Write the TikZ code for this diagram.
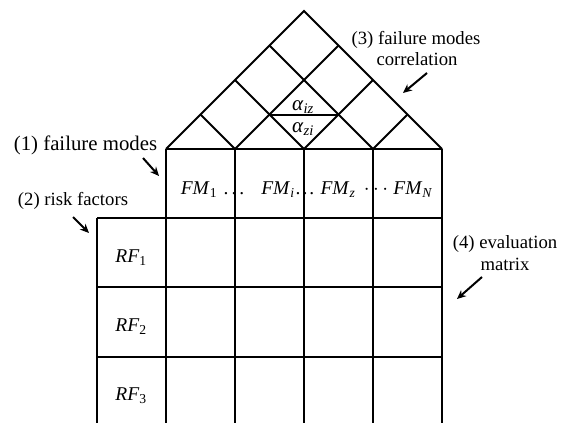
\documentclass[tikz,border=0pt]{standalone}
\usepackage{fontspec}
\setmainfont{Liberation Serif}
\usetikzlibrary{arrows.meta}
\newcommand{\lbsub}[2]{\textit{#1}\textsubscript{#2}}
\begin{document}
\begin{tikzpicture}[x=1pt,y=-1pt,
  gridline/.style={line width=2pt},
  txt/.style={font=\fontsize{18.7}{22}\selectfont, inner sep=0pt, anchor=base},
  cell/.style={font=\fontsize{19.5}{22}\selectfont, inner sep=0pt, anchor=base},
  pointer/.style={line width=2pt, -{Stealth[length=9pt,width=8pt]}}]
\useasboundingbox (0,0) rectangle (574,423);
% failure modes row
\draw[gridline] (166,149) -- (442,149);
\foreach \x in {166,235,304,373,442} \draw[gridline] (\x,149) -- (\x,218);
% evaluation matrix body
\foreach \x in {97,166,235,304,373,442} \draw[gridline] (\x,218) -- (\x,423);
\foreach \y in {218,287,357} \draw[gridline] (97,\y) -- (442,\y);
% roof (correlation)
\draw[gridline] (166,149) -- (304,11) -- (442,149);
\draw[gridline] (235,149) -- (338.5,45.5);
\draw[gridline] (304,149) -- (373,80);
\draw[gridline] (373,149) -- (407.5,114.5);
\draw[gridline] (373,149) -- (269.5,45.5);
\draw[gridline] (304,149) -- (235,80);
\draw[gridline] (235,149) -- (200.5,114.5);
\draw[gridline] (269.5,114.5) -- (338.5,114.5);
% roof labels
\node[cell, font=\fontsize{21}{22}\selectfont] (aiz) at (303,110) {\lbsub{α}{\textit{iz}}};
\node[cell, font=\fontsize{21}{22}\selectfont] (azi) at (303,132) {\lbsub{α}{\textit{zi}}};
% failure mode labels
\node[cell] (fm1) at (199,194) {\lbsub{FM}{1}};
\node[cell] (d1) at (234,194) {.\kern3pt.\kern3pt.};
\node[cell] (fmi) at (278,194) {\lbsub{FM}{\textit{i}}};
\node[cell] (d2) at (305,194) {.\kern2pt.\kern2pt.};
\node[cell] (fmz) at (338,194) {\lbsub{FM}{\textit{z}}};
\node[cell] (d3) at (376,194) {$\cdots$};
\node[cell] (fmn) at (413,194) {\lbsub{FM}{\textit{N}}};
% risk factor labels
\node[cell] (rf1) at (131,262) {\lbsub{RF}{1}};
\node[cell] (rf2) at (131,331) {\lbsub{RF}{2}};
\node[cell] (rf3) at (131,400) {\lbsub{RF}{3}};
% annotations
\node[txt, font=\fontsize{20.8}{22}\selectfont] (n1) at (85.5,150) {(1) failure modes};
\node[txt] (n2) at (73,205) {(2) risk factors};
\node[txt] (n3a) at (416,44) {(3) failure modes};
\node[txt] (n3b) at (417,65) {correlation};
\node[txt] (n4a) at (505,248) {(4) evaluation};
\node[txt] (n4b) at (505,270) {matrix};
% pointer arrows
\coordinate (p1t) at (143,158); \coordinate (p1h) at (159,176);
\coordinate (p2t) at (73,217);  \coordinate (p2h) at (89,233);
\coordinate (p3t) at (427,73);  \coordinate (p3h) at (403,93);
\coordinate (p4t) at (482,277); \coordinate (p4h) at (457,299);
\draw[pointer] (p1t) -- (p1h);
\draw[pointer] (p2t) -- (p2h);
\draw[pointer] (p3t) -- (p3h);
\draw[pointer] (p4t) -- (p4h);
\end{tikzpicture}
\end{document}
